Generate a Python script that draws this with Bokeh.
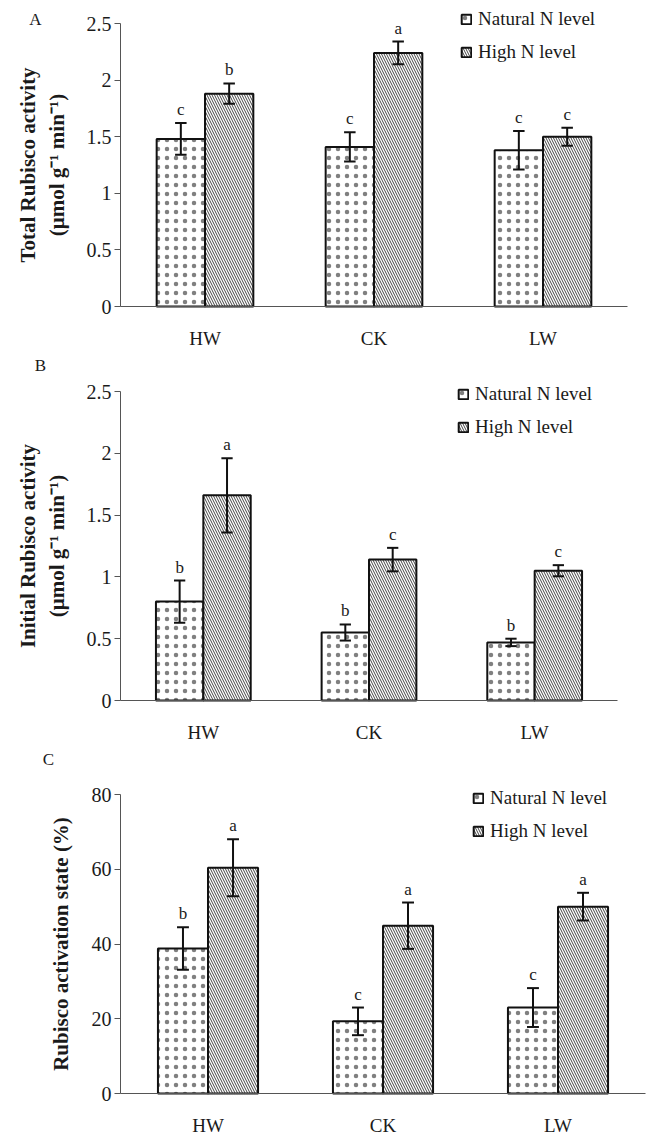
from bokeh.plotting import figure
from bokeh.models import (ColumnDataSource, Range1d, FixedTicker,
                          NumeralTickFormatter, Legend, LegendItem, Label)
from bokeh.transform import dodge
from bokeh.layouts import column
from bokeh.core.properties import value
from bokeh.embed import file_html
from bokeh.resources import INLINE

# ---------------- data ----------------
categories = ["HW", "CK", "LW"]
series_names = ["Natural N level", "High N level"]

a_natural = [1.48, 1.41, 1.38]
a_natural_err = [0.14, 0.13, 0.17]
a_high = [1.88, 2.24, 1.50]
a_high_err = [0.09, 0.10, 0.08]
a_natural_letters = ["c", "c", "c"]
a_high_letters = ["b", "a", "c"]
a_ticks = [0, 0.5, 1, 1.5, 2, 2.5]

b_natural = [0.80, 0.55, 0.47]
b_natural_err = [0.17, 0.065, 0.03]
b_high = [1.66, 1.14, 1.05]
b_high_err = [0.30, 0.095, 0.045]
b_natural_letters = ["b", "b", "b"]
b_high_letters = ["a", "c", "c"]
b_ticks = [0, 0.5, 1, 1.5, 2, 2.5]

c_natural = [38.8, 19.3, 23.0]
c_natural_err = [5.7, 3.7, 5.2]
c_high = [60.4, 44.9, 50.0]
c_high_err = [7.6, 6.2, 3.7]
c_natural_letters = ["b", "c", "c"]
c_high_letters = ["a", "a", "a"]
c_ticks = [0, 20, 40, 60, 80]

SERIF = "Liberation Serif"
TXT = "#1a1a1a"
AXC = "#555555"
W = 646

cat_pos = [i + 0.5 for i in range(len(categories))]
n_cat = len(categories)


def make_panel(letter, ylabel, nat, nat_err, high, high_err, nat_let, high_let,
               ticks, fmt, height, ax_top, ax_bottom, ax_left, ax_right,
               legend_xy, letter_xy, label_standoff):
    ymax = ticks[-1]
    # ranges chosen so the (fixed-location) axes sit where the reference has them
    ppu_y = (ax_bottom - ax_top) / ymax
    y_start = -(height - ax_bottom) / ppu_y
    y_end = ax_bottom / ppu_y
    ppu_x = (ax_right - ax_left) / n_cat
    x_start = -ax_left / ppu_x
    x_end = (W - ax_left) / ppu_x
    p = figure(width=W, height=height, x_range=Range1d(x_start, x_end),
               y_range=Range1d(y_start, y_end), output_backend="svg",
               toolbar_location=None, min_border_left=0,
               min_border_right=0, min_border_top=0, min_border_bottom=0)
    p.outline_line_color = None
    p.xgrid.grid_line_color = None
    p.ygrid.grid_line_color = None
    p.background_fill_color = "white"
    p.border_fill_color = "white"

    w = 0.286
    off = w / 2
    cap = 0.034
    renderers = []
    specs = [
        (-off, nat, nat_err, nat_let, "dot", 9, "#808080", 0.9),
        (off, high, high_err, high_let, "left_diagonal_line", 5, "#444444", 1.0),
    ]
    for (o, vals, errs, lets, pat, scale, hcol, hw) in specs:
        src = ColumnDataSource(dict(
            xc=cat_pos, top=vals,
            upper=[v + e for v, e in zip(vals, errs)],
            lower=[v - e for v, e in zip(vals, errs)],
            letter=lets))
        r = p.vbar(x=dodge("xc", o), top="top", bottom=0, width=w,
                   source=src, fill_color="white", line_color="#111111",
                   line_width=2, hatch_pattern=pat, hatch_scale=scale,
                   hatch_color=hcol, hatch_weight=hw)
        renderers.append(r)
        p.segment(x0=dodge("xc", o), y0="lower", x1=dodge("xc", o), y1="upper",
                  source=src, line_color="#111111", line_width=2)
        for fld in ("upper", "lower"):
            p.segment(x0=dodge("xc", o - cap), y0=fld,
                      x1=dodge("xc", o + cap), y1=fld,
                      source=src, line_color="#111111", line_width=2)
        p.text(x=dodge("xc", o), y="upper", text="letter",
               source=src, text_align="center", text_baseline="bottom",
               y_offset=-4, text_font=value(SERIF), text_font_size="17px",
               text_color=TXT)

    # y axis
    p.yaxis.fixed_location = 0
    p.yaxis.bounds = (0, ymax)
    p.yaxis.ticker = FixedTicker(ticks=ticks)
    p.yaxis.formatter = NumeralTickFormatter(format=fmt)
    p.yaxis.minor_tick_line_color = None
    p.yaxis.major_tick_in = 0
    p.yaxis.major_tick_out = 6
    p.yaxis.major_tick_line_color = AXC
    p.yaxis.axis_line_color = AXC
    p.yaxis.major_label_standoff = 3
    p.yaxis.major_label_text_font = SERIF
    p.yaxis.major_label_text_font_size = "20px"
    p.yaxis.major_label_text_color = TXT
    p.yaxis.axis_label = ylabel
    p.yaxis.axis_label_text_font = SERIF
    p.yaxis.axis_label_text_font_size = "21px"
    p.yaxis.axis_label_text_font_style = "bold"
    p.yaxis.axis_label_text_color = TXT
    p.yaxis.axis_label_standoff = label_standoff

    # x axis
    p.xaxis.fixed_location = 0
    p.xaxis.bounds = (0, n_cat)
    p.xaxis.ticker = FixedTicker(ticks=cat_pos)
    p.xaxis.major_label_overrides = {pos: c for pos, c in zip(cat_pos, categories)}
    p.xaxis.major_tick_line_color = None
    p.xaxis.minor_tick_line_color = None
    p.xaxis.axis_line_color = AXC
    p.xaxis.major_label_standoff = 15
    p.xaxis.major_label_text_font = SERIF
    p.xaxis.major_label_text_font_size = "19px"
    p.xaxis.major_label_text_color = TXT

    # legend (location: bottom-left corner, px from frame bottom-left)
    legend = Legend(items=[LegendItem(label=series_names[0], renderers=[renderers[0]]),
                           LegendItem(label=series_names[1], renderers=[renderers[1]])],
                    location=(legend_xy[0], height - legend_xy[1]),
                    padding=0, margin=0,
                    border_line_color=None, background_fill_alpha=0,
                    glyph_width=12, glyph_height=12, label_height=23,
                    spacing=10, label_standoff=6,
                    label_text_font=SERIF, label_text_font_size="19px",
                    label_text_color=TXT)
    p.add_layout(legend)

    p.add_layout(Label(x=letter_xy[0], y=height - letter_xy[1],
                       x_units="screen", y_units="screen", text=letter,
                       text_font=SERIF, text_font_size="17px", text_color=TXT,
                       text_align="center", text_baseline="middle"))
    return p


# geometry per panel (px inside each figure): height, axis top, axis bottom, left, right
pA = make_panel("A", "Total Rubisco activity\n(\u03bcmol g\u207b\u00b9 min\u207b\u00b9)",
                a_natural, a_natural_err, a_high, a_high_err,
                a_natural_letters, a_high_letters, a_ticks, "0.[0]",
                353, 23, 306, 120, 627, (460, 63.5), (35, 19), 15)
pB = make_panel("B", "Initial Rubisco activity\n(\u03bcmol g\u207b\u00b9 min\u207b\u00b9)",
                b_natural, b_natural_err, b_high, b_high_err,
                b_natural_letters, b_high_letters, b_ticks, "0.[0]",
                394, 38, 347, 120, 617, (457, 85.5), (40, 12), 15)
pC = make_panel("C", "Rubisco activation state (%)",
                c_natural, c_natural_err, c_high, c_high_err,
                c_natural_letters, c_high_letters, c_ticks, "0",
                391, 47, 346, 120, 645, (472, 95.5), (48, 12), 16)

layout = column(pA, pB, pC, spacing=0)
open("out.html", "w").write(file_html(layout, INLINE))
